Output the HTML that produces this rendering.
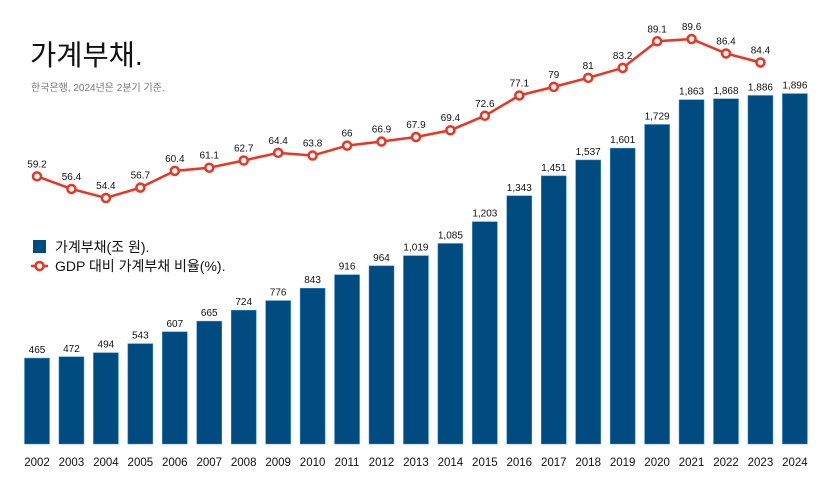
<!DOCTYPE html>
<html><head><meta charset="utf-8"><style>
body{margin:0;background:#fff;width:826px;height:481px;overflow:hidden}
text{font-family:"Liberation Sans","Noto Sans CJK KR",sans-serif}
</style></head><body>
<svg id="c" width="826" height="481">
<text x="30" y="65" font-size="28.5" fill="#111">가계부채.</text>
<text x="31" y="91" font-size="10" fill="#777">한국은행, 2024년은 2분기 기준.</text>
<g>
<rect x="33" y="240" width="13" height="13" fill="#004c80"/>
<text x="55" y="252" font-size="14" fill="#111">가계부채(조 원).</text>
<line x1="31" y1="266" x2="48" y2="266" stroke="#ee3322" stroke-width="2.5"/>
<circle cx="39.5" cy="266" r="4" fill="#fff" stroke="#ee3322" stroke-width="2.5"/>
<text x="55" y="271" font-size="14" fill="#111">GDP 대비 가계부채 비율(%).</text>
</g>
<g id="bars"></g><g id="line"></g><g id="xaxis"></g>
</svg>
<script>
const years=[2002,2003,2004,2005,2006,2007,2008,2009,2010,2011,2012,2013,2014,2015,2016,2017,2018,2019,2020,2021,2022,2023,2024];
const debt=[465,472,494,543,607,665,724,776,843,916,964,1019,1085,1203,1343,1451,1537,1601,1729,1863,1868,1886,1896];
const ratio=[59.2,56.4,54.4,56.7,60.4,61.1,62.7,64.4,63.8,66,66.9,67.9,69.4,72.6,77.1,79,81,83.2,89.1,89.6,86.4,84.4];
const NS="http://www.w3.org/2000/svg";
const x=i=>37+i*34.45;
const yb=v=>444-v*0.1848;
const yl=v=>198-(v-54.4)*4.517;
function mk(t,a,p){const e=document.createElementNS(NS,t);for(const k in a)e.setAttribute(k,a[k]);p.appendChild(e);return e;}
const B=document.getElementById('bars'),L=document.getElementById('line'),X=document.getElementById('xaxis');
debt.forEach((v,i)=>{
 const r=mk('rect',{x:x(i)-12.5,y:yb(v),width:25,height:444-yb(v),fill:'#004c80',stroke:'#3a8fd0','stroke-width':0.5},B);
 
 
 const t=mk('text',{x:x(i),y:yb(v)-5,'font-size':10,'text-anchor':'middle',fill:'#111'},B);
 t.textContent=v.toLocaleString('en-US');
 
 
 const xt=mk('text',{x:x(i),y:466,'font-size':11.5,'text-anchor':'middle',fill:'#111'},X);
 xt.textContent=years[i];
 
 
});
const pl=mk('polyline',{points:ratio.map((v,i)=>x(i)+','+yl(v)).join(' '),fill:'none',stroke:'#ee3322','stroke-width':2.5},L);


ratio.forEach((v,i)=>{
 const c=mk('circle',{cx:x(i),cy:yl(v),r:4,fill:'#fff',stroke:'#ee3322','stroke-width':2.5},L);
 
 
 const t=mk('text',{x:x(i),y:yl(v)-9,'font-size':10,'text-anchor':'middle',fill:'#111'},L);
 t.textContent=v;
 
 
});
</script>
</body></html>
